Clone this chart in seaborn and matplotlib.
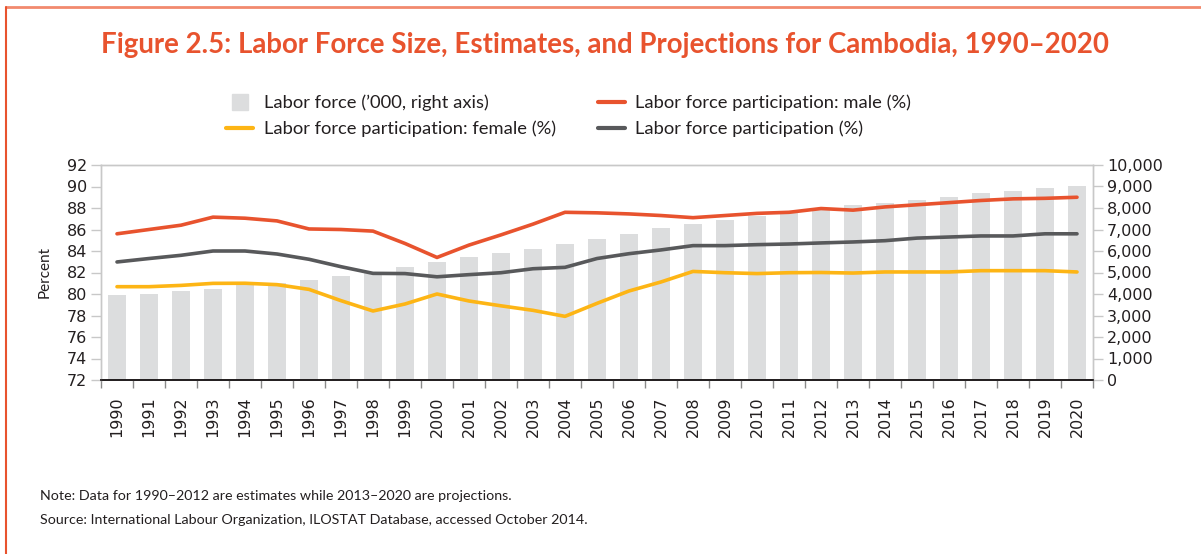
import matplotlib
matplotlib.use("Agg")
import matplotlib.pyplot as plt
from matplotlib.lines import Line2D
import seaborn as sns
import pandas as pd
import numpy as np

years = [str(y) for y in range(1990, 2021)]
labor_force = [3950, 4000, 4140, 4230, 4420, 4500, 4650, 4840, 5040, 5260,
               5490, 5720, 5910, 6090, 6330, 6560, 6790, 7070, 7260, 7440,
               7630, 7750, 7940, 8140, 8250, 8370, 8510, 8700, 8790, 8930, 9040]
male = [85.6, 86.0, 86.4, 87.15, 87.05, 86.8, 86.05, 86.0, 85.85, 84.7,
        83.4, 84.55, 85.5, 86.5, 87.6, 87.55, 87.45, 87.3, 87.1, 87.3,
        87.5, 87.6, 87.95, 87.8, 88.1, 88.3, 88.5, 88.7, 88.85, 88.9, 89.0]
total = [82.98, 83.3, 83.6, 84.0, 84.0, 83.72, 83.23, 82.54, 81.92, 81.9,
         81.6, 81.8, 81.98, 82.35, 82.48, 83.3, 83.75, 84.1, 84.5, 84.5,
         84.59, 84.65, 84.75, 84.84, 84.96, 85.2, 85.3, 85.4, 85.4, 85.6, 85.6]
female = [80.68, 80.68, 80.8, 80.99, 81.0, 80.87, 80.43, 79.38, 78.42, 79.07,
          80.0, 79.35, 78.9, 78.48, 77.92, 79.13, 80.28, 81.12, 82.1, 81.98,
          81.9, 81.98, 82.0, 81.95, 82.05, 82.05, 82.05, 82.17, 82.17, 82.17, 82.05]

pct_ticks = list(range(72, 93, 2))
lf_ticks = list(range(0, 10001, 1000))

C_BAR = "#DCDDDE"
C_MALE = "#E8532E"
C_FEMALE = "#FDB515"
C_TOTAL = "#58595B"
C_TITLE = "#E8532E"
C_SPINE = "#C8C8C8"

df = pd.DataFrame({"Year": years, "Labor": labor_force, "Male": male,
                   "Female": female, "Total": total})

sns.set_theme(style="white")
plt.rcParams["font.family"] = ["DejaVu Sans"]

fig = plt.figure(figsize=(12.01, 5.54), dpi=100)
ax = fig.add_axes([101 / 1201, 1 - 380 / 554, (1093 - 101) / 1201, (380 - 165) / 554])
ax2 = ax.twinx()

sns.barplot(data=df, x="Year", y="Labor", ax=ax2, color=C_BAR, saturation=1,
            width=0.56, edgecolor="none")

for col, c in [("Male", C_MALE), ("Total", C_TOTAL), ("Female", C_FEMALE)]:
    sns.pointplot(data=df, x="Year", y=col, ax=ax, color=c, markers="",
                  linestyles="-", errorbar=None, linewidth=2.6)

ax.set_zorder(ax2.get_zorder() + 1)
ax.patch.set_visible(False)

ax.set_ylim(72, 92)
ax.set_yticks(pct_ticks)
ax2.set_ylim(0, 10000)
ax2.set_yticks(lf_ticks)
ax2.set_yticklabels([f"{v:,}" for v in lf_ticks])
ax.set_xlim(-0.5, len(years) - 0.5)

ax.set_xlabel("")
ax2.set_ylabel("")
ax.set_ylabel("Percent", family="Lato", fontsize=11, color="#231F20", labelpad=11)

for a in (ax, ax2):
    for s in ("left", "right", "top"):
        a.spines[s].set_color(C_SPINE)
        a.spines[s].set_linewidth(1.0)
    a.spines["bottom"].set_color("#231F20")
    a.spines["bottom"].set_linewidth(1.3)

ax.tick_params(axis="y", which="major", left=True, length=7, width=1,
               color=C_SPINE, labelsize=11.5, labelcolor="#231F20", pad=3)
ax2.tick_params(axis="y", which="major", right=True, length=7, width=1,
                color=C_SPINE, labelsize=11.5, labelcolor="#231F20", pad=3)

ax.set_xticks(np.arange(len(years)))
ax.set_xticklabels(years, rotation=90)
ax.set_xticks(np.arange(len(years) + 1) - 0.5, minor=True)
ax.tick_params(axis="x", which="major", length=0, labelsize=11.5,
               labelcolor="#231F20", pad=12)
ax.tick_params(axis="x", which="minor", bottom=True, length=6, width=1,
               color="#8A8A8A")

# Title
fig.text(0.504, 1 - 45 / 554, "Figure 2.5: Labor Force Size, Estimates, and Projections for Cambodia, 1990\u20132020",
         ha="center", va="center", fontsize=19.9, fontweight="bold",
         family="Lato", color=C_TITLE)

# Legend
handles = [
    Line2D([], [], marker="s", linestyle="", color=C_BAR, markersize=12),
    Line2D([], [], color=C_FEMALE, linewidth=3),
    Line2D([], [], color=C_MALE, linewidth=3),
    Line2D([], [], color=C_TOTAL, linewidth=3),
]
labels = [
    "Labor force (\u2019000, right axis)",
    "Labor force participation: female (%)",
    "Labor force participation: male (%)",
    "Labor force participation (%)",
]
fig.legend(handles, labels, ncol=2, loc="center",
           bbox_to_anchor=(0.4735, 1 - 116 / 554), frameon=False,
           prop={"family": "Lato", "size": 13.2}, handlelength=1.5,
           columnspacing=2.3, labelspacing=0.52, handletextpad=0.55,
           labelcolor="#231F20")

# Notes
fig.text(40 / 1201, 1 - 496 / 554,
         "Note: Data for 1990\u20132012 are estimates while 2013\u20132020 are projections.",
         ha="left", va="center", fontsize=10.3, family="Lato", color="#231F20")
fig.text(40 / 1201, 1 - 520 / 554,
         "Source: International Labour Organization, ILOSTAT Database, accessed October 2014.",
         ha="left", va="center", fontsize=10.3, family="Lato", color="#231F20")

# Frame lines
fig.add_artist(Line2D([6 / 1201, 1], [1 - 6.5 / 554, 1 - 6.5 / 554],
                      transform=fig.transFigure, color="#F28A6E", linewidth=2))
fig.add_artist(Line2D([6 / 1201, 6 / 1201], [0, 1 - 6.5 / 554],
                      transform=fig.transFigure, color="#E8532E", linewidth=1.5))

fig.savefig("out.png", dpi=100, facecolor="white")
